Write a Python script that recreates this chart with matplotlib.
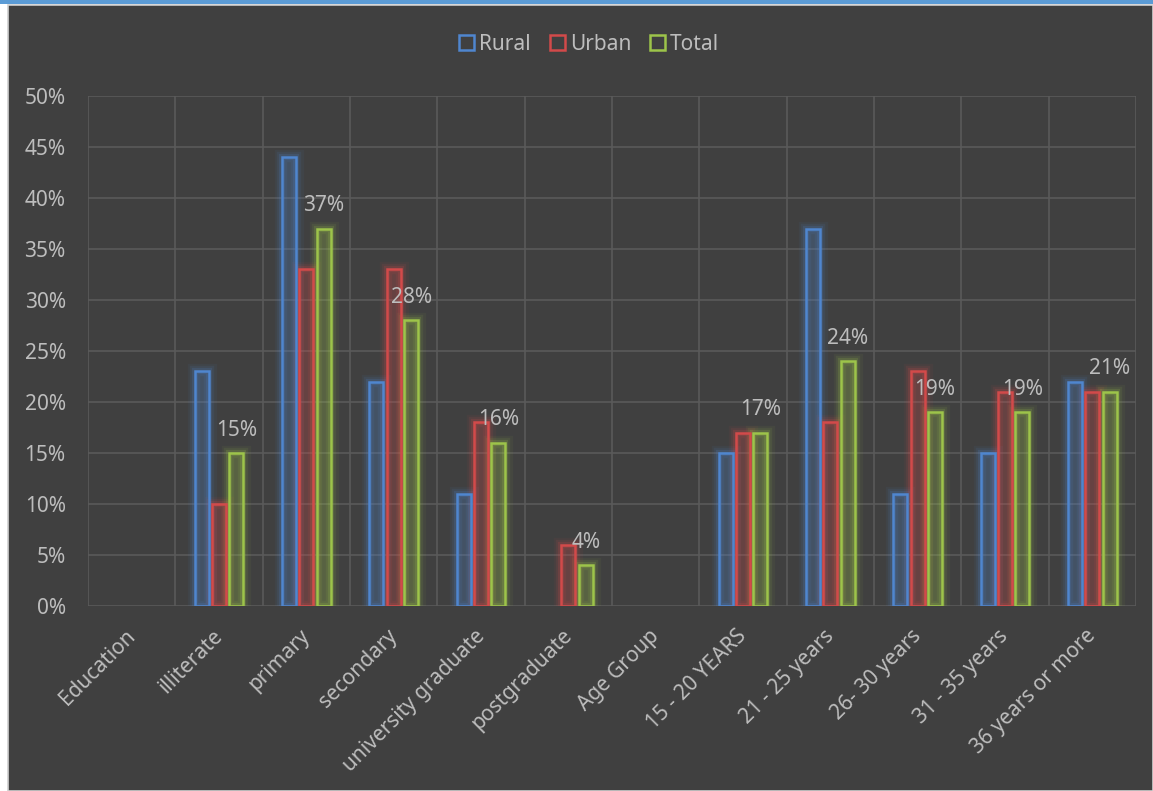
import numpy as np
import matplotlib
matplotlib.use('Agg')
import matplotlib.pyplot as plt
import matplotlib.transforms as mtransforms
from matplotlib.patches import Rectangle, Patch

plt.rcParams['font.family'] = ['Noto Sans', 'DejaVu Sans']

categories = ['Education', 'illiterate', 'primary', 'secondary', 'university graduate',
              'postgraduate', 'Age Group', '15 - 20 YEARS', '21 - 25 years', '26- 30 years',
              '31 - 35 years', '36 years or more']
rural = [None, 23, 44, 22, 11, None, None, 15, 37, 11, 15, 22]
urban = [None, 10, 33, 33, 18, 6, None, 17, 18, 23, 21, 21]
total = [None, 15, 37, 28, 16, 4, None, 17, 24, 19, 19, 21]
series_names = ['Rural', 'Urban', 'Total']
series_colors = ['#4f86cf', '#d24a4a', '#9dc44a']

bg = '#404040'
text_col = '#bdbdbd'
grid_col = '#5a5a5a'

fig = plt.figure(figsize=(11.53, 7.91), dpi=100, facecolor='white')
# dark chart area, light frame line and blue top strip
fig.patches.append(Rectangle((8 / 1153, 0), 1 - 8 / 1153, 1 - 5 / 791,
                             transform=fig.transFigure, facecolor=bg,
                             edgecolor='#d0d0d0', linewidth=1.2, zorder=-10))
fig.patches.append(Rectangle((0, 1 - 4 / 791), 1, 4 / 791, transform=fig.transFigure,
                             facecolor='#5b9bd5', edgecolor='none', zorder=-9))

ax = fig.add_axes([88 / 1153, 1 - 606 / 791, (1136 - 88) / 1153, (606 - 96) / 791])
ax.set_facecolor(bg)

x = np.arange(len(categories))
width = 0.16
offsets = [-0.2, 0.0, 0.2]

for vals, off, col in zip([rural, urban, total], offsets, series_colors):
    xs = [xi + off for xi, v in zip(x, vals) if v is not None]
    hs = [v for v in vals if v is not None]
    # soft glow around the bars
    for lw, a in [(11, 0.06), (7.5, 0.10), (4.5, 0.18)]:
        ax.bar(xs, hs, width=width, facecolor='none', edgecolor=col,
               linewidth=lw, alpha=a, zorder=2)
    ax.bar(xs, hs, width=width, facecolor=col, alpha=0.22, edgecolor='none', zorder=3)
    ax.bar(xs, hs, width=width, facecolor='none', edgecolor=col, linewidth=1.8, zorder=4)

for xi, v in zip(x, total):
    if v is not None:
        ax.annotate(f'{v}%', (xi + 0.2, v), xytext=(0, 9), textcoords='offset points',
                    ha='center', va='bottom', color=text_col, fontsize=15, zorder=5)

ax.set_xlim(-0.5, len(categories) - 0.5)
ax.set_ylim(0, 50)
ax.set_yticks(np.arange(0, 51, 5))
ax.set_yticklabels([f'{t}%' for t in range(0, 51, 5)])
ax.set_xticks(x)
ax.set_xticklabels(categories, rotation=45, ha='right', rotation_mode='anchor')
ax.set_xticks(np.arange(-0.5, len(categories), 1), minor=True)
ax.tick_params(axis='both', which='both', length=0, colors=text_col, labelsize=15)
ax.tick_params(axis='y', pad=16)
ax.tick_params(axis='x', pad=14)
shift = mtransforms.ScaledTranslation(-0.07, 0, fig.dpi_scale_trans)
for lbl in ax.get_xticklabels():
    lbl.set_transform(lbl.get_transform() + shift)
ax.grid(axis='y', which='major', color=grid_col, linewidth=1.2)
ax.grid(axis='x', which='minor', color=grid_col, linewidth=1.2)
ax.set_axisbelow(True)
for s in ax.spines.values():
    s.set_visible(False)

handles = [Patch(facecolor='none', edgecolor=c, linewidth=1.8, label=n)
           for n, c in zip(series_names, series_colors)]
leg = fig.legend(handles=handles, loc='center', bbox_to_anchor=(0.511, 1 - 44 / 791),
                 ncol=3, frameon=False, fontsize=15, handlelength=0.72, handleheight=0.72,
                 handletextpad=0.25, columnspacing=0.9)
for t in leg.get_texts():
    t.set_color(text_col)

plt.savefig('out.png', dpi=100, facecolor=fig.get_facecolor())
plt.close(fig)
